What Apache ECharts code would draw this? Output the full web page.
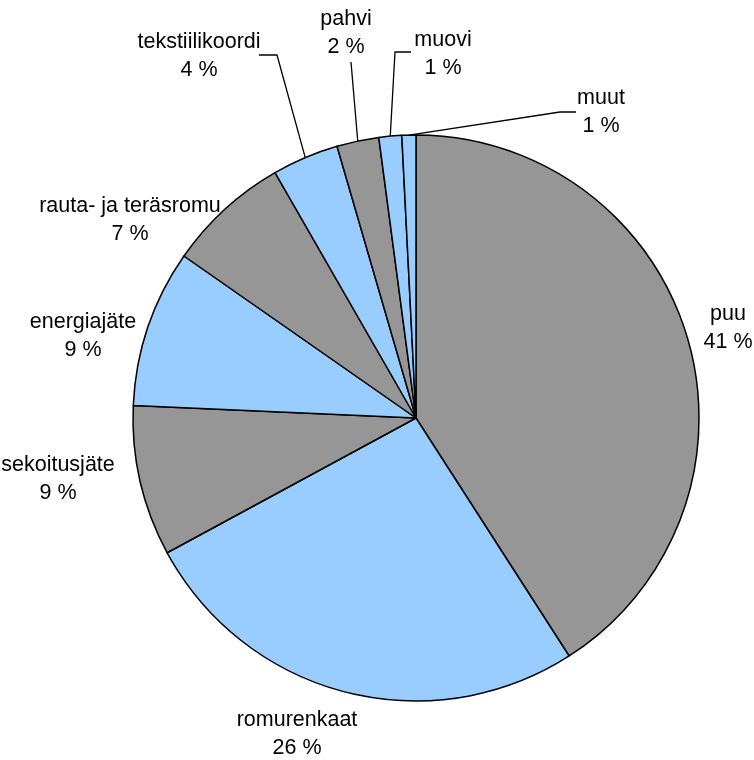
<!DOCTYPE html>
<html>
<head>
<meta charset="utf-8">
<script src="https://cdn.jsdelivr.net/npm/echarts@6/dist/echarts.min.js"></script>
<style>
  html, body { margin: 0; padding: 0; background: #ffffff; }
  #chart { width: 754px; height: 760px; }
</style>
</head>
<body>
<div id="chart"></div>
<script>
// Waste fractions, share of total (%)
const categories = ['puu', 'romurenkaat', 'sekoitusjäte', 'energiajäte', 'rauta- ja teräsromu', 'tekstiilikoordi', 'pahvi', 'muovi', 'muut'];
const shares = [40.9, 26.2, 8.6, 9.0, 7.0, 3.8, 2.4, 1.3, 0.8];
const sliceColors = ['#969696', '#99ccff', '#969696', '#99ccff', '#969696', '#99ccff', '#969696', '#99ccff', '#99ccff'];

// Where each label block sits (centre), in pixels
const labelSpots = {
  'puu': [728, 328],
  'romurenkaat': [297, 734],
  'sekoitusjäte': [58, 479],
  'energiajäte': [83, 336],
  'rauta- ja teräsromu': [130, 220],
  'tekstiilikoordi': [199, 56],
  'pahvi': [346, 33],
  'muovi': [443, 54],
  'muut': [601, 112]
};
// Leader-line bends for the small slices (the first point comes from the slice edge)
const leaderBends = {
  'tekstiilikoordi': [[277, 55], [259, 55]],
  'pahvi': [[351, 62]],
  'muovi': [[395, 52], [411, 52]],
  'muut': [[560, 112], [576, 112]]
};

const chart = echarts.init(document.getElementById('chart'), null, { renderer: 'canvas' });

const data = categories.map((name, i) => ({
  name: name,
  value: shares[i],
  itemStyle: { color: sliceColors[i] },
  labelLine: { show: !!leaderBends[name] }
}));

chart.setOption({
  animation: false,
  backgroundColor: '#ffffff',
  series: [{
    type: 'pie',
    center: [416, 418],
    radius: 283,
    startAngle: 90,
    clockwise: true,
    percentPrecision: 0,
    avoidLabelOverlap: false,
    data: data,
    itemStyle: { borderColor: '#000000', borderWidth: 1.5 },
    label: {
      show: true,
      position: 'outside',
      formatter: '{b}\n{d} %',
      color: '#000000',
      fontFamily: '"Liberation Sans", Arial, sans-serif',
      fontSize: 21.5,
      lineHeight: 28,
      align: 'center'
    },
    labelLine: {
      length: 10,
      length2: 10,
      smooth: false,
      lineStyle: { color: '#000000', width: 1.3 }
    },
    labelLayout: function (p) {
      const name = categories[p.dataIndex];
      const spot = labelSpots[name];
      const out = { x: spot[0], y: spot[1], align: 'center', verticalAlign: 'middle' };
      const bends = leaderBends[name];
      if (bends && p.labelLinePoints) {
        out.labelLinePoints = [p.labelLinePoints[0]].concat(bends);
      }
      return out;
    },
    emphasis: { disabled: true }
  }]
});
</script>
</body>
</html>
